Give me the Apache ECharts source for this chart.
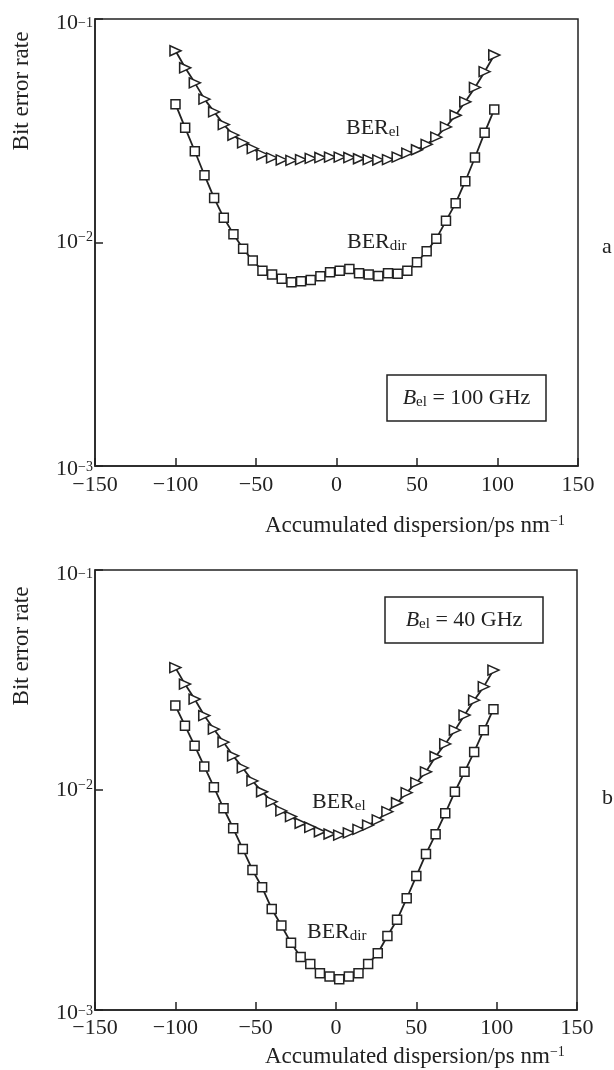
<!DOCTYPE html>
<html>
<head>
<meta charset="utf-8">
<style>
    html, body { margin: 0; padding: 0; background: #fff; }
    #mainChart { width: 614px; height: 1070px; }
</style>
<script src="https://cdn.jsdelivr.net/npm/echarts@6/dist/echarts.min.js"></script>
</head>
<body>
<div id="mainChart"></div>
<script>
// accumulated dispersion, ps/nm (same points for every curve)
const dispersion = [-100, -94, -88, -82, -76, -70, -64, -58, -52, -46, -40, -34, -28, -22, -16, -10, -4,
    2, 8, 14, 20, 26, 32, 38, 44, 50, 56, 62, 68, 74, 80, 86, 92, 98];

// panel a, B_el = 100 GHz
const berElA = [0.0721, 0.0605, 0.0518, 0.0438, 0.0384, 0.0337, 0.0302, 0.0279, 0.0263, 0.0247, 0.0239, 0.0234,
    0.0233, 0.0235, 0.0238, 0.0240, 0.0241, 0.0241, 0.0240, 0.0237, 0.0235, 0.0234, 0.0235, 0.0241,
    0.0251, 0.0260, 0.0275, 0.0296, 0.0329, 0.0371, 0.0426, 0.0494, 0.0581, 0.0690];
const berDirA = [0.0416, 0.0326, 0.0256, 0.0200, 0.0158, 0.0129, 0.0109, 0.00937, 0.00830, 0.00748, 0.00719, 0.00688,
    0.00664, 0.00670, 0.00680, 0.00706, 0.00736, 0.00748, 0.00762, 0.00728, 0.00719, 0.00709, 0.00728, 0.00724,
    0.00748, 0.00816, 0.00914, 0.0104, 0.0125, 0.0150, 0.0188, 0.0240, 0.0310, 0.0394];

// panel b, B_el = 40 GHz
const berElB = [0.0360, 0.0303, 0.0259, 0.0218, 0.0189, 0.0165, 0.0143, 0.0126, 0.0110, 0.00982, 0.00885, 0.00803,
    0.00757, 0.00706, 0.00677, 0.00646, 0.00631, 0.00624, 0.00639, 0.00662, 0.00693, 0.00731, 0.00797, 0.00875,
    0.00972, 0.0108, 0.0121, 0.0142, 0.0162, 0.0187, 0.0219, 0.0256, 0.0295, 0.0351];
const berDirB = [0.0242, 0.0196, 0.0159, 0.0128, 0.0103, 0.00826, 0.00670, 0.00539, 0.00433, 0.00361, 0.00288, 0.00242,
    0.00202, 0.00174, 0.00162, 0.00147, 0.00142, 0.00138, 0.00142, 0.00147, 0.00162, 0.00181, 0.00217, 0.00257,
    0.00322, 0.00406, 0.00512, 0.00630, 0.00783, 0.00982, 0.0121, 0.0149, 0.0187, 0.0233];

const xMin = -150, xMax = 150, xStep = 50;
const yMin = 0.001, yMax = 0.1;
const bandLabels = ['100', '40'];
const panelLetters = ['a', 'b'];

const serif = '"Liberation Serif", "DejaVu Serif", serif';
const ink = '#222';

function pairs(ys) {
    const out = [];
    for (let i = 0; i < dispersion.length; i++) {
        out.push([dispersion[i], ys[i]]);
    }
    return out;
}

function xAxisFor(gridIndex) {
    return {
        type: 'value', gridIndex: gridIndex, min: xMin, max: xMax, interval: xStep,
        axisLine: {show: true, onZero: false, lineStyle: {color: ink, width: 1.5}},
        axisTick: {show: true, inside: true, length: 8, lineStyle: {color: ink, width: 1.5}},
        splitLine: {show: false},
        axisLabel: {
            color: ink, fontFamily: serif, fontSize: 22, margin: gridIndex === 0 ? 8 : 7,
            formatter: function (v) { return v < 0 ? '\u2212' + Math.abs(v) : String(v); }
        }
    };
}

// the outer labels sit a little lower than their ticks in the original
const labelShift = {'-1': 'T', '-2': '', '-3': 'L'};

function yAxisFor(gridIndex) {
    return {
        type: 'log', logBase: 10, gridIndex: gridIndex, min: yMin, max: yMax,
        axisLine: {show: true, onZero: false, lineStyle: {color: ink, width: 1.5}},
        axisTick: {show: true, inside: true, length: 8, lineStyle: {color: ink, width: 1.5}},
        minorTick: {show: false},
        splitLine: {show: false},
        axisLabel: {
            margin: 2,
            formatter: function (v) {
                const e = Math.round(Math.log10(v));
                const k = labelShift[String(e)] || '';
                return '{b' + k + '|10}{s' + k + '|\u2212' + Math.abs(e) + '}';
            },
            rich: {
                b: {fontFamily: serif, fontSize: 22, color: ink, lineHeight: 24},
                s: {fontFamily: serif, fontSize: 14, color: ink, lineHeight: 14, verticalAlign: 'top'},
                bT: {fontFamily: serif, fontSize: 22, color: ink, lineHeight: 24, padding: [9, 0, 0, 0]},
                sT: {fontFamily: serif, fontSize: 14, color: ink, lineHeight: 14, verticalAlign: 'top', padding: [9, 0, 0, 0]},
                bL: {fontFamily: serif, fontSize: 22, color: ink, lineHeight: 24, padding: [6, 0, 0, 0]},
                sL: {fontFamily: serif, fontSize: 14, color: ink, lineHeight: 14, verticalAlign: 'top', padding: [6, 0, 0, 0]}
            }
        }
    };
}

function curve(name, data, idx, symbol) {
    const tri = symbol === 'triangle';
    return {
        name: name, type: 'line', xAxisIndex: idx, yAxisIndex: idx,
        data: pairs(data),
        symbol: symbol, symbolSize: tri ? [10, 11] : 9, symbolRotate: tri ? -90 : 0,
        showAllSymbol: true,
        lineStyle: {color: ink, width: 1.8},
        itemStyle: {color: '#fff', borderColor: ink, borderWidth: 1.5},
        emphasis: {disabled: true},
        animation: false
    };
}

const txtRich = {
    b: {fontFamily: serif, fontSize: 22, fill: ink, lineHeight: 24},
    t: {fontFamily: serif, fontSize: 23, fill: ink, lineHeight: 24},
    s: {fontFamily: serif, fontSize: 15, fill: ink, lineHeight: 15, verticalAlign: 'bottom', padding: [6, 0, 0, 0]},
    i: {fontFamily: serif, fontSize: 22, fill: ink, fontStyle: 'italic', lineHeight: 24},
    p: {fontFamily: serif, fontSize: 14, fill: ink, lineHeight: 14, verticalAlign: 'top'}
};

function label(text, x, y, extra) {
    return Object.assign({
        type: 'text', x: x, y: y, silent: true,
        style: {text: text, rich: txtRich, fill: ink, verticalAlign: 'middle', align: 'left'}
    }, extra || {});
}

function yName(y) {
    return {
        type: 'text', x: 22, y: y, rotation: Math.PI / 2, silent: true,
        style: {text: '{t|Bit error rate}', rich: txtRich, align: 'center', verticalAlign: 'middle'}
    };
}

function bandBox(i, x, y, w, h) {
    return [
        {type: 'rect', shape: {x: x, y: y, width: w, height: h}, style: {fill: '#fff', stroke: ink, lineWidth: 1.5}, silent: true, z: 10},
        {type: 'text', x: x + w / 2, y: y + h / 2, silent: true, z: 11,
            style: {text: '{i|B}{s|el}{b| = ' + bandLabels[i] + ' GHz}', rich: txtRich, align: 'center', verticalAlign: 'middle'}}
    ];
}

const graphics = [
    yName(91),
    yName(646),
    label('{t|Accumulated dispersion/ps nm}{p|\u22121}', 265, 526),
    label('{t|Accumulated dispersion/ps nm}{p|\u22121}', 265, 1057),
    label('{b|BER}{s|el}', 346, 128),
    label('{b|BER}{s|dir}', 347, 242),
    label('{b|BER}{s|el}', 312, 802),
    label('{b|BER}{s|dir}', 307, 932),
    label('{b|' + panelLetters[0] + '}', 602, 247),
    label('{b|' + panelLetters[1] + '}', 602, 798)
].concat(bandBox(0, 387, 375, 159, 46), bandBox(1, 385, 597, 158, 46));

const myChart = echarts.init(document.getElementById('mainChart'), null, {renderer: 'canvas'});
myChart.setOption({
    backgroundColor: '#fff',
    animation: false,
    grid: [
        {left: 95, top: 19, width: 483, height: 447, show: true, borderColor: ink, borderWidth: 1.5, backgroundColor: 'transparent'},
        {left: 95, top: 570, width: 482, height: 440, show: true, borderColor: ink, borderWidth: 1.5, backgroundColor: 'transparent'}
    ],
    xAxis: [xAxisFor(0), xAxisFor(1)],
    yAxis: [yAxisFor(0), yAxisFor(1)],
    series: [
        curve('BERel a', berElA, 0, 'triangle'),
        curve('BERdir a', berDirA, 0, 'rect'),
        curve('BERel b', berElB, 1, 'triangle'),
        curve('BERdir b', berDirB, 1, 'rect')
    ],
    graphic: graphics
});
</script>
</body>
</html>
